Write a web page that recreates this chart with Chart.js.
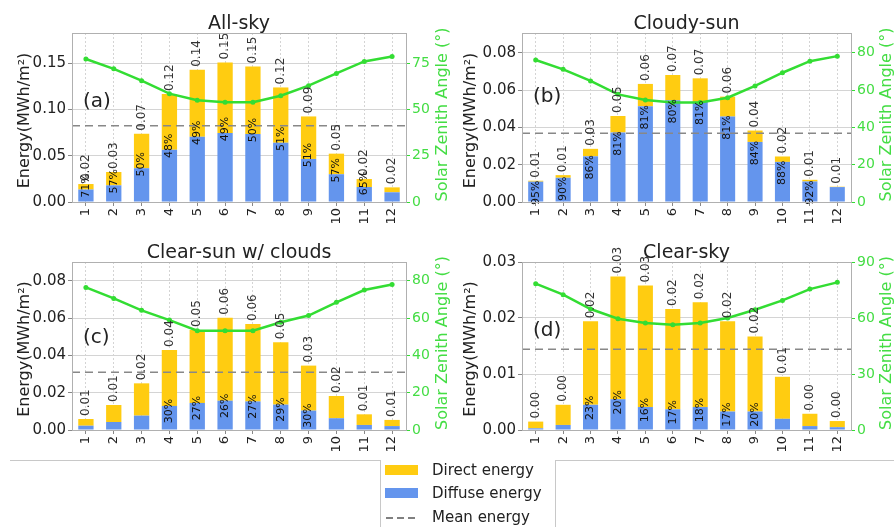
<!DOCTYPE html>
<html>
<head>
<meta charset="utf-8">
<script src="https://cdn.jsdelivr.net/npm/chart.js@4"></script>
<style>
  body { margin: 0; background: #fff; font-family: "DejaVu Sans", sans-serif; }
  #wrap { position: relative; width: 894px; height: 527px; overflow: hidden; }
  canvas { position: absolute; }
  .rule { position: absolute; background: #c8c8c8; }
  .leg { position: absolute; font-size: 15px; color: #222; line-height: 18px; }
  .patch { position: absolute; width: 33px; height: 10px; }
  .dash { position: absolute; top: 517px; width: 7px; height: 2px; background: #808080; }
</style>
</head>
<body>
<div id="wrap">
  <canvas id="c0"></canvas>
  <canvas id="c1"></canvas>
  <canvas id="c2"></canvas>
  <canvas id="c3"></canvas>

  <div class="rule" style="left:10px; top:460px; width:370px; height:1px;"></div>
  <div class="rule" style="left:555px; top:460px; width:339px; height:1px;"></div>
  <div class="rule" style="left:380px; top:460px; width:1px; height:67px;"></div>
  <div class="rule" style="left:555px; top:460px; width:1px; height:67px;"></div>

  <div class="patch" style="left:385px; top:465px; background:#ffcc11;"></div>
  <div class="leg" style="left:432px; top:461px;">Direct energy</div>
  <div class="patch" style="left:385px; top:488px; background:#6495ed;"></div>
  <div class="leg" style="left:432px; top:484px;">Diffuse energy</div>
  <div class="dash" style="left:386px;"></div>
  <div class="dash" style="left:397px;"></div>
  <div class="dash" style="left:408px;"></div>
  <div class="leg" style="left:432px; top:508px;">Mean energy</div>
</div>

<script>
document.addEventListener("DOMContentLoaded", function () {

  const MONTHS = ['1', '2', '3', '4', '5', '6', '7', '8', '9', '10', '11', '12'];
  const TITLES = ['All-sky', 'Cloudy-sun', 'Clear-sun w/ clouds', 'Clear-sky'];
  const LETTERS = ['(a)', '(b)', '(c)', '(d)'];

  // (a) All-sky
  const DIFFUSE_A = [0.0135, 0.0180, 0.0365, 0.0565, 0.0705, 0.0745, 0.0735, 0.0640, 0.0465, 0.0300, 0.0162, 0.0105];
  const DIRECT_A  = [0.0059, 0.0144, 0.0372, 0.0600, 0.0723, 0.0762, 0.0729, 0.0597, 0.0459, 0.0222, 0.0086, 0.0053];
  const SZA_A     = [77.2, 71.9, 65.5, 58.5, 55.0, 53.9, 53.9, 57.4, 62.8, 69.4, 75.9, 78.6];
  const TOTAL_LBL_A = ['0.02', '0.03', '0.07', '0.12', '0.14', '0.15', '0.15', '0.12', '0.09', '0.05', '0.02', '0.02'];
  const PCT_LBL_A   = ['71%', '57%', '50%', '48%', '49%', '49%', '50%', '51%', '51%', '57%', '65%', ''];
  const MEAN_A = 0.0824;

  // (b) Cloudy-sun
  const DIFFUSE_B = [0.0109, 0.0130, 0.0245, 0.0373, 0.0513, 0.0545, 0.0537, 0.0458, 0.0322, 0.0215, 0.0110, 0.0080];
  const DIRECT_B  = [0.0005, 0.0014, 0.0040, 0.0088, 0.0120, 0.0136, 0.0126, 0.0107, 0.0061, 0.0029, 0.0009, 0.0002];
  const SZA_B     = [76.1, 71.1, 64.9, 57.7, 54.7, 53.3, 53.3, 55.9, 62.2, 69.3, 75.5, 78.2];
  const TOTAL_LBL_B = ['0.01', '0.01', '0.03', '0.05', '0.06', '0.07', '0.07', '0.06', '0.04', '0.02', '0.01', '0.01'];
  const PCT_LBL_B   = ['95%', '90%', '86%', '81%', '81%', '80%', '81%', '81%', '84%', '88%', '92%', ''];
  const MEAN_B = 0.0369;

  // (c) Clear-sun w/ clouds
  const DIFFUSE_C = [0.0023, 0.0043, 0.0077, 0.0129, 0.0145, 0.0157, 0.0153, 0.0136, 0.0104, 0.0063, 0.0027, 0.0021];
  const DIRECT_C  = [0.0036, 0.0091, 0.0173, 0.0300, 0.0391, 0.0445, 0.0415, 0.0334, 0.0241, 0.0119, 0.0057, 0.0033];
  const SZA_C     = [76.4, 70.5, 64.1, 58.9, 53.2, 53.2, 53.2, 57.7, 61.3, 68.4, 75.0, 78.0];
  const TOTAL_LBL_C = ['0.01', '0.01', '0.02', '0.04', '0.05', '0.06', '0.06', '0.05', '0.03', '0.02', '0.01', '0.01'];
  const PCT_LBL_C   = ['', '', '', '30%', '27%', '26%', '27%', '29%', '30%', '', '', ''];
  const MEAN_C = 0.0309;

  // (d) Clear-sky
  const DIFFUSE_D = [0.0003, 0.0009, 0.0045, 0.0055, 0.0041, 0.0037, 0.0041, 0.0033, 0.0033, 0.0020, 0.0007, 0.0005];
  const DIRECT_D  = [0.0012, 0.0036, 0.0149, 0.0219, 0.0217, 0.0179, 0.0187, 0.0161, 0.0134, 0.0075, 0.0022, 0.0011];
  const SZA_D     = [78.4, 72.5, 64.8, 59.6, 57.3, 56.4, 57.3, 60.0, 64.4, 69.4, 75.5, 79.1];
  const TOTAL_LBL_D = ['0.00', '0.00', '0.02', '0.03', '0.03', '0.02', '0.02', '0.02', '0.02', '0.01', '0.00', '0.00'];
  const PCT_LBL_D   = ['', '', '23%', '20%', '16%', '17%', '18%', '17%', '20%', '', '', ''];
  const MEAN_D = 0.0144;

  // axis ticks and ranges
  const YTICKS_A = [0, 0.05, 0.10, 0.15];
  const YTICKS_B = [0, 0.02, 0.04, 0.06, 0.08];
  const YTICKS_C = [0, 0.02, 0.04, 0.06, 0.08];
  const YTICKS_D = [0, 0.01, 0.02, 0.03];
  const Y2TICKS_A = [0, 25, 50, 75];
  const Y2TICKS_B = [0, 20, 40, 60, 80];
  const Y2TICKS_C = [0, 20, 40, 60, 80];
  const Y2TICKS_D = [0, 30, 60, 90];
  const YMAX = [0.1825, 0.0906, 0.090, 0.030];
  const Y2MAX = [91.25, 90.6, 90, 90];

  const YELLOW = '#ffcc11';
  const BLUE = '#6495ed';
  const GREEN = '#33dd33';
  const GREEN_TXT = '#44dd44';

  const PANELS = [
    { diffuse: DIFFUSE_A, direct: DIRECT_A, sza: SZA_A, tot: TOTAL_LBL_A, pct: PCT_LBL_A, mean: MEAN_A, yt: YTICKS_A, y2t: Y2TICKS_A },
    { diffuse: DIFFUSE_B, direct: DIRECT_B, sza: SZA_B, tot: TOTAL_LBL_B, pct: PCT_LBL_B, mean: MEAN_B, yt: YTICKS_B, y2t: Y2TICKS_B },
    { diffuse: DIFFUSE_C, direct: DIRECT_C, sza: SZA_C, tot: TOTAL_LBL_C, pct: PCT_LBL_C, mean: MEAN_C, yt: YTICKS_C, y2t: Y2TICKS_C },
    { diffuse: DIFFUSE_D, direct: DIRECT_D, sza: SZA_D, tot: TOTAL_LBL_D, pct: PCT_LBL_D, mean: MEAN_D, yt: YTICKS_D, y2t: Y2TICKS_D }
  ];

  // canvas placement and plot area inside each canvas
  const LAYOUT = [
    { left: 0,   top: 0,   w: 456, h: 228, aL: 72, aR: 406, aT: 33, aB: 202, letterDy: 69, pctDy: -4 },
    { left: 444, top: 0,   w: 450, h: 228, aL: 78, aR: 407, aT: 33, aB: 202, letterDy: 64, pctDy: 11 },
    { left: 0,   top: 228, w: 456, h: 232, aL: 72, aR: 406, aT: 34, aB: 202, letterDy: 76, pctDy: 5 },
    { left: 444, top: 228, w: 450, h: 232, aL: 78, aR: 407, aT: 34, aB: 202, letterDy: 69, pctDy: 3 }
  ];

  Chart.defaults.font.family = '"DejaVu Sans", sans-serif';

  const decor = {
    id: 'decor',
    afterDatasetsDraw(chart, args, opts) {
      const { ctx, chartArea: ca, scales } = chart;
      const p = opts.panel, L = opts.layout;

      // mean line
      const ym = scales.y.getPixelForValue(p.mean);
      ctx.save();
      ctx.strokeStyle = '#888';
      ctx.lineWidth = 1.5;
      ctx.setLineDash([8, 5]);
      ctx.beginPath();
      ctx.moveTo(ca.left, ym);
      ctx.lineTo(ca.right, ym);
      ctx.stroke();
      ctx.restore();

      const diffMeta = chart.getDatasetMeta(0);
      const dirMeta = chart.getDatasetMeta(1);

      // totals above bars
      ctx.save();
      ctx.font = '12px "DejaVu Sans"';
      ctx.fillStyle = '#333';
      ctx.textAlign = 'left';
      ctx.textBaseline = 'middle';
      dirMeta.data.forEach((bar, i) => {
        ctx.save();
        ctx.translate(bar.x, bar.y - 3);
        ctx.rotate(-Math.PI / 2);
        ctx.fillText(p.tot[i], 0, 0);
        ctx.restore();
      });

      // diffuse share
      ctx.font = '11px "DejaVu Sans"';
      ctx.fillStyle = '#111';
      ctx.textAlign = 'center';
      diffMeta.data.forEach((bar, i) => {
        if (!p.pct[i]) return;
        ctx.save();
        ctx.translate(bar.x, bar.y + L.pctDy);
        ctx.rotate(-Math.PI / 2);
        ctx.fillText(p.pct[i], 0, 0);
        ctx.restore();
      });
      ctx.restore();
    },
    afterDraw(chart, args, opts) {
      const { ctx, chartArea: ca } = chart;
      const L = opts.layout;

      // frame
      ctx.save();
      ctx.strokeStyle = '#b0b0b0';
      ctx.lineWidth = 1;
      ctx.strokeRect(ca.left + 0.5, ca.top + 0.5, ca.right - ca.left, ca.bottom - ca.top);

      // title
      ctx.fillStyle = '#222';
      ctx.font = '19px "DejaVu Sans"';
      ctx.textAlign = 'center';
      ctx.textBaseline = 'alphabetic';
      ctx.fillText(opts.title, (ca.left + ca.right) / 2, ca.top - 4);

      // panel letter
      ctx.font = '20px "DejaVu Sans"';
      ctx.textAlign = 'left';
      ctx.textBaseline = 'middle';
      ctx.fillText(opts.letter, ca.left + 11, ca.top + L.letterDy);

      // axis titles
      const midY = (ca.top + ca.bottom) / 2;
      ctx.font = '16px "DejaVu Sans"';
      ctx.textAlign = 'center';
      ctx.save();
      ctx.translate(L.aL === 72 ? 25 : 27, midY + 3);
      ctx.rotate(-Math.PI / 2);
      ctx.fillText('Energy(MWh/m²)', 0, 0);
      ctx.restore();

      ctx.fillStyle = GREEN_TXT;
      ctx.save();
      ctx.translate(443, midY - 3);
      ctx.rotate(-Math.PI / 2);
      ctx.fillText('Solar Zenith Angle (°)', 0, 0);
      ctx.restore();
      ctx.restore();
    }
  };

  PANELS.forEach((p, pi) => {
    const L = LAYOUT[pi];
    const cv = document.getElementById('c' + pi);
    cv.width = L.w;
    cv.height = L.h;
    cv.style.left = L.left + 'px';
    cv.style.top = L.top + 'px';
    cv.style.width = L.w + 'px';
    cv.style.height = L.h + 'px';

    new Chart(cv, {
      type: 'bar',
      data: {
        labels: MONTHS,
        datasets: [
          { label: 'Diffuse energy', data: p.diffuse, backgroundColor: BLUE, stack: 'e', order: 2,
            barPercentage: 0.55, categoryPercentage: 1 },
          { label: 'Direct energy', data: p.direct, backgroundColor: YELLOW, stack: 'e', order: 2,
            barPercentage: 0.55, categoryPercentage: 1 },
          { type: 'line', label: 'Solar zenith angle', data: p.sza, yAxisID: 'y2', order: 0,
            borderColor: GREEN, backgroundColor: GREEN, borderWidth: 2.5,
            pointRadius: 2.5, pointBorderWidth: 0, tension: 0 }
        ]
      },
      options: {
        responsive: false,
        animation: false,
        devicePixelRatio: 1,
        layout: { padding: { top: L.aT, left: 0, right: 0, bottom: 0 } },
        plugins: {
          legend: { display: false },
          tooltip: { enabled: false },
          decor: { panel: p, layout: L, title: TITLES[pi], letter: LETTERS[pi] }
        },
        scales: {
          x: {
            stacked: true,
            offset: true,
            grid: { offset: false, color: '#d4d4d4', tickColor: '#888', tickLength: 4, tickBorderDash: [] },
            border: { display: false, dash: [2, 2] },
            ticks: { minRotation: 90, maxRotation: 90, autoSkip: false, padding: 2, color: '#222', font: { size: 13 } },
            afterFit: s => { s.height = L.h - L.aB; }
          },
          y: {
            stacked: true,
            position: 'left',
            min: 0,
            max: YMAX[pi],
            afterBuildTicks: s => { s.ticks = p.yt.map(v => ({ value: v })); },
            grid: { color: '#d4d4d4', tickColor: '#888', tickLength: 4 },
            border: { display: false },
            ticks: { callback: v => v.toFixed(2), color: '#222', font: { size: 15 }, padding: 2 },
            afterFit: s => { s.width = L.aL; }
          },
          y2: {
            position: 'right',
            min: 0,
            max: Y2MAX[pi],
            afterBuildTicks: s => { s.ticks = p.y2t.map(v => ({ value: v })); },
            grid: { drawOnChartArea: false, tickColor: GREEN, tickLength: 4 },
            border: { display: false },
            ticks: { callback: v => String(v), color: GREEN_TXT, font: { size: 14 }, padding: 2 },
            afterFit: s => { s.width = L.w - L.aR; }
          }
        }
      },
      plugins: [decor]
    });
  });

});
</script>
</body>
</html>
